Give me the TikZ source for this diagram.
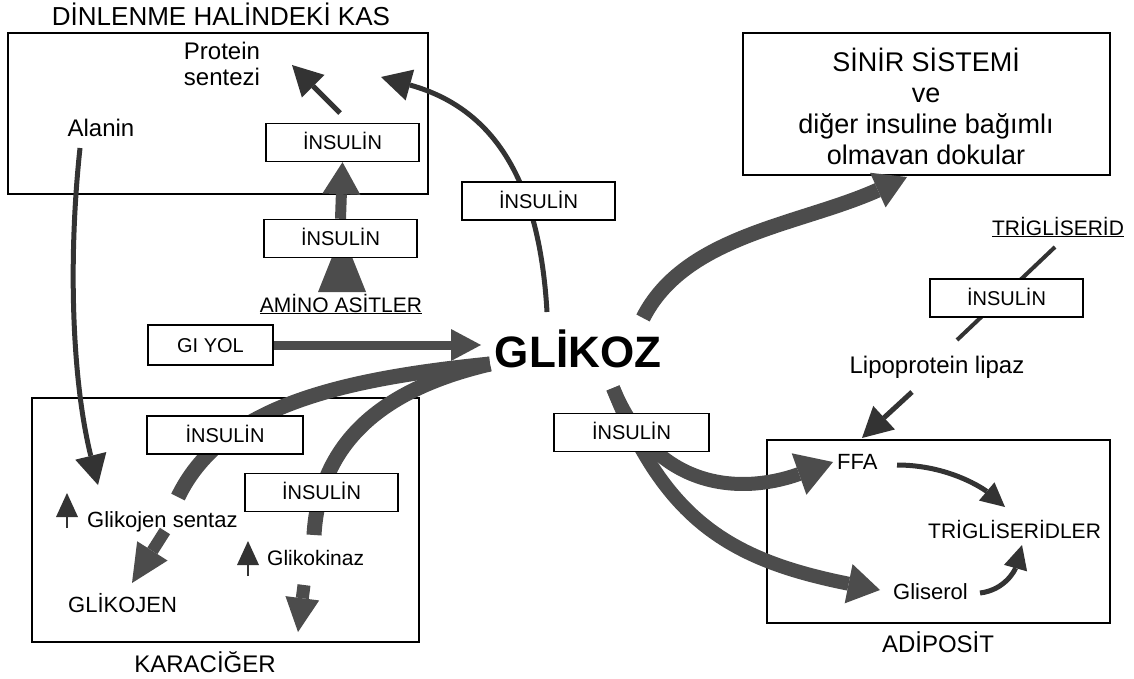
\documentclass[tikz,border=0pt]{standalone}
\usepackage{fontspec}
\setmainfont{Liberation Sans}
\usetikzlibrary{arrows.meta,calc}
\definecolor{BandClr}{gray}{0.3}
\definecolor{LineClr}{gray}{0.2}
\pgfdeclarelayer{bg}
\pgfsetlayers{bg,main}

\begin{document}
\begin{tikzpicture}[x=1pt,y=-1pt,
  box/.style={draw,line width=2pt,inner sep=0pt},
  insbox/.style={draw,line width=1.4pt,fill=white,minimum width=153pt,
    minimum height=38pt,inner sep=0pt,text height=14pt,text depth=0pt,
    font=\fontsize{20}{24}\selectfont},
  lbl/.style={inner sep=0pt,anchor=base,font=\fontsize{22}{26}\selectfont},
  band/.style={draw=BandClr,line width=15pt},
  slim/.style={draw=LineClr,line width=5pt},
  headL/.style={-{Triangle[length=32pt,width=38pt,line width=0pt]}},
  headM/.style={-{Triangle[length=30pt,width=32pt,line width=0pt]}},
  headS/.style={-{Triangle[length=24pt,width=24pt,line width=0pt]}},
  upmark/.style={draw=LineClr,line width=1.5pt,-{Triangle[length=24pt,width=22pt,line width=0pt]}}]
\useasboundingbox (0,0) rectangle (1134,679);

% kutular
\begin{pgfonlayer}{bg}
\node[box,minimum width=420pt,minimum height=161pt] (kas) at (218,113.5) {};
\node[box,minimum width=387pt,minimum height=244pt] (karaciger) at (225.5,520) {};
\node[box,minimum width=343pt,minimum height=183pt] (adiposit) at (938.5,531.5) {};
\node[box,minimum width=367pt,minimum height=142pt] (sinir) at (926.5,104) {};
\end{pgfonlayer}

% yazilar
\node[lbl,font=\fontsize{26}{30}\selectfont] (kasT) at (221,26) {DİNLENME HALİNDEKİ KAS};
\node[lbl,font=\fontsize{24}{28}\selectfont] (protein) at (222,60) {Protein};
\node[lbl,font=\fontsize{24}{28}\selectfont] (sentezi) at (222,86) {sentezi};
\node[lbl,font=\fontsize{24}{28}\selectfont] (alanin) at (101,137) {Alanin};
\node[lbl,font=\fontsize{21}{25}\selectfont] (amino) at (341,312) {\underline{AMİNO ASİTLER}};
\node[lbl,font=\fontsize{44}{48}\selectfont\bfseries] (glikoz) at (578,367) {GLİKOZ};
\node[lbl,anchor=base west] (gsentaz) at (87,527) {Glikojen sentaz};
\node[lbl,anchor=base west] (glikojen) at (68,612) {GLİKOJEN};
\node[lbl,anchor=base west,font=\fontsize{21}{25}\selectfont] (gkinaz) at (267,565) {Glikokinaz};
\node[lbl,font=\fontsize{24}{28}\selectfont] (karacigerT) at (205,672) {KARACİĞER};
\node[lbl,anchor=center,align=center,font=\fontsize{27}{31}\selectfont] (sinirT) at (926,106)
  {SİNİR SİSTEMİ\\ve\\diğer insuline bağımlı\\olmavan dokular};
\node[lbl,font=\fontsize{21}{25}\selectfont] (trig) at (1058,235) {\underline{TRİGLİSERİD}};
\node[lbl,font=\fontsize{24}{28}\selectfont] (lipo) at (937,373) {Lipoprotein lipaz};
\node[lbl,anchor=base west] (ffa) at (837,469) {FFA};
\node[lbl,anchor=base west,font=\fontsize{21}{25}\selectfont] (tgler) at (928,538) {TRİGLİSERİDLER};
\node[lbl,anchor=base west] (gliserol) at (893,599) {Gliserol};
\node[lbl,font=\fontsize{24}{28}\selectfont] (adipositT) at (938,652) {ADİPOSİT};

\node[insbox] (ins1) at (342.5,142.5) {İNSULİN};
\node[insbox] (ins2) at (340.5,238.5) {İNSULİN};
\node[insbox] (ins3) at (538.5,201) {İNSULİN};
\node[insbox,minimum width=156pt] (ins4) at (225,435) {İNSULİN};
\node[insbox] (ins5) at (321.5,492.5) {İNSULİN};
\node[insbox,minimum width=155pt] (ins6) at (631.5,432.5) {İNSULİN};
\node[insbox] (ins7) at (1006.5,298) {İNSULİN};
\node[insbox,minimum width=125pt,minimum height=40pt] (giyol) at (210.5,345) {GI YOL};

\coordinate (gW) at (490,364);
\coordinate (gN) at (547,312);
\coordinate (gNE) at (643,318);
\coordinate (gSE) at (613,388);
\coordinate (gGi) at (481,345);
\coordinate (pA) at (340,113);
\coordinate (pB) at (292,65);
\coordinate (mB) at (381,77);
\coordinate (aA) at (80,148);
\coordinate (aB) at (98,485);
\coordinate (b1) at (178,497);
\coordinate (b2) at (314,535);

\begin{pgfonlayer}{bg}
% glikoz girisleri
\draw[band,line width=9pt,headM] (giyol.east) -- (gGi);
\fill[BandClr] (318,292) -- (366,292) -- (342,232) -- cycle;
\draw[band,line width=11pt,headL] (ins2.north) -- (ins1.south);
\draw[slim,headM] (pA) -- (pB);
\draw[slim,headM] (gN) .. controls (540,190) and (500,110) .. (mB);
\draw[slim,headM] (aA) .. controls (68,260) and (72,380) .. (aB);
% karaciger
\draw[band] (gW) .. controls (330,380) and (220,410) .. (b1);
\draw[band,line width=12pt,-{Triangle[length=38pt,width=36pt,line width=0pt]}] (165,531) -- (132,583);
\draw[band] (gW) .. controls (400,385) and (320,430) .. (b2);
\draw[band,line width=13pt,-{Triangle[length=34pt,width=34pt,line width=0pt]}] (304,585) -- (298,632);
\draw[upmark] (67,528) -- (67,493);
\draw[upmark] (248,576) -- (248,541);
% sinir sistemi
\draw[band,headL] (gNE) .. controls (685,235) and (800,225) .. (907,177);
% adiposit
\draw[band,line width=14pt,-{Triangle[length=36pt,width=44pt,line width=0pt]}] (gSE) .. controls (655,490) and (740,495) .. (833,462);
\draw[band,line width=14pt,-{Triangle[length=32pt,width=40pt,line width=0pt]}] (gSE) .. controls (665,520) and (730,560) .. (880,590);
\draw[slim,line width=4pt] (1055,247) -- (957,340);
\draw[slim,headM] (912,392) -- (862,438);
\draw[slim,headS] (897,465) .. controls (950,465) and (985,490) .. (1005,507);
\draw[slim,headS] (980,593) .. controls (1005,590) and (1015,570) .. (1022,545);
\end{pgfonlayer}
\end{tikzpicture}
\end{document}
